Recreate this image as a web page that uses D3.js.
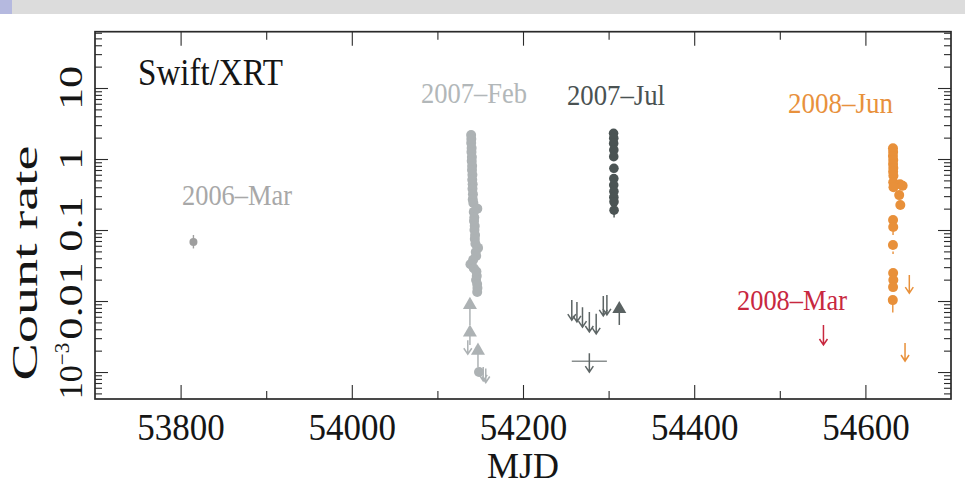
<!DOCTYPE html>
<html>
<head>
<meta charset="utf-8">
<script src="https://cdn.jsdelivr.net/npm/d3@7"></script>
<style>
  html, body { margin: 0; padding: 0; background: #ffffff; }
  svg { display: block; }
</style>
</head>
<body>
<svg id="chart" width="965" height="495"></svg>
<script>
// Swift/XRT count-rate history of the source, one group of marks per epoch.

// Epoch labels
const epochLabels = ["2006–Mar", "2007–Feb", "2007–Jul", "2008–Mar", "2008–Jun"];
const panelTitle = "Swift/XRT";

// Axis ticks
const xMajorTicks = [53800, 54000, 54200, 54400, 54600];
const xMinorTicks = [53900, 54100, 54300, 54500];
const yMajorTicks = [1e-3, 1e-2, 1e-1, 1, 10];
const yTickLabels = ["10|−3", "0.01", "0.1", "1", "10"];

// 2006-Mar: single detection [MJD, rate, low, high]
const mar2006 = [[53815, 0.068, 0.055, 0.085]];

// 2007-Feb detections [MJD, rate]
const feb2007 = [
  [54139.4, 2.18], [54139.6, 1.91], [54139.5, 1.68], [54140.0, 1.43], [54139.8, 1.26],
  [54140.3, 1.07], [54140.1, 0.94], [54140.6, 0.80], [54140.4, 0.70], [54140.9, 0.60],
  [54140.7, 0.51], [54141.2, 0.44], [54141.0, 0.38], [54141.5, 0.32], [54141.3, 0.27],
  [54142.0, 0.24], [54146.6, 0.20], [54142.5, 0.18], [54143.1, 0.15], [54142.8, 0.134],
  [54143.6, 0.114], [54143.3, 0.10], [54144.0, 0.085], [54143.7, 0.075], [54144.4, 0.064],
  [54147.5, 0.056], [54144.8, 0.049], [54145.3, 0.043], [54141.8, 0.038], [54138.6, 0.033],
  [54142.5, 0.029], [54145.6, 0.026], [54146.0, 0.0225], [54145.2, 0.0198], [54146.4, 0.0174],
  [54146.8, 0.0152], [54146.5, 0.0134], [54148.6, 0.0010]
];
// 2007-Feb hardness-flagged points (triangles) [MJD, rate, low]
const feb2007Tri = [[54138.0, 0.0088, 0.0046], [54138.0, 0.0036, 0.0024], [54147.4, 0.0020, 0.00118]];
// 2007-Feb upper limits [MJD, rate]
const feb2007Lim = [[54135.5, 0.0028], [54153.5, 0.00118], [54156.5, 0.00112]];

// 2007-Jul detections [MJD, rate]
const jul2007 = [
  [54305.8, 2.30], [54306.0, 1.96], [54305.9, 1.66], [54306.1, 1.34], [54306.0, 1.08],
  [54306.2, 0.74], [54306.1, 0.53], [54306.0, 0.43], [54306.2, 0.35], [54306.1, 0.29],
  [54306.3, 0.25], [54306.4, 0.19]
];
const jul2007Err = [[54306.4, 0.15, 0.19]];
const jul2007Tri = [[54312.5, 0.0077, 0.0046]];
const jul2007Lim = [
  [54257.0, 0.0103], [54263.0, 0.0097], [54269.5, 0.0082], [54277.5, 0.0070],
  [54285.5, 0.0066], [54293.8, 0.0118], [54298.0, 0.0122]
];
// stacked upper limit over a time span [MJD start, MJD end, rate]
const jul2007Stack = [[54257.0, 54298.0, 0.00142]];

// 2008-Mar upper limit [MJD, rate]
const mar2008Lim = [[54551, 0.0046]];

// 2008-Jun detections [MJD, rate]
const jun2008 = [
  [54632.2, 1.42], [54632.4, 1.26], [54632.2, 1.10], [54632.5, 0.97], [54632.3, 0.85],
  [54632.6, 0.75], [54632.4, 0.66], [54632.7, 0.58], [54632.5, 0.47], [54640.4, 0.44],
  [54632.8, 0.40], [54643.5, 0.42], [54639.5, 0.31], [54640.8, 0.225], [54632.3, 0.138],
  [54632.5, 0.110], [54632.2, 0.0615], [54632.4, 0.0248], [54632.6, 0.0198], [54632.3, 0.0157],
  [54632.0, 0.0103]
];
const jun2008Err = [[54632.0, 0.0069, 0.0103], [54632.3, 0.085, 0.095], [54632.3, 0.046, 0.050]];
const jun2008Lim = [[54651.3, 0.0232], [54646.3, 0.00256]];

// ---------------------------------------------------------------------------
const svg = d3.select("#chart");
const FONT = "'Liberation Serif', 'Times New Roman', serif";
const box = { left: 95, right: 951, top: 31.7, bottom: 399 };

const x = d3.scaleLinear().domain([53700, 54700]).range([box.left, box.right]);
const y = d3.scaleLog().domain([Math.pow(10, -3.38), Math.pow(10, 1.793)]).range([box.bottom, box.top]);

// window strip along the top edge
svg.append("rect").attr("x", 0).attr("y", 0).attr("width", 965).attr("height", 14).attr("fill", "#dcdcdc");
svg.append("rect").attr("x", 0).attr("y", 0).attr("width", 12).attr("height", 14).attr("fill", "#b5b9df");

// minor log ticks inside the y domain
const [yLo, yHi] = y.domain();
const yMinorTicks = [];
for (let e = -4; e <= 1; e++) {
  for (let k = 2; k <= 9; k++) {
    const v = k * Math.pow(10, e);
    if (v > yLo && v < yHi) yMinorTicks.push(v);
  }
}

function styleAxis(g) {
  g.select(".domain").remove();
  g.selectAll(".tick line").attr("stroke", "#2b2b2b").attr("stroke-width", 1.1);
}

// bottom axis with labels
const xAxisMajor = svg.append("g").attr("transform", `translate(0,${box.bottom})`)
  .call(d3.axisBottom(x).tickValues(xMajorTicks).tickSizeInner(-14).tickSizeOuter(0)
    .tickPadding(14).tickFormat(d3.format("d")));
styleAxis(xAxisMajor);
xAxisMajor.selectAll(".tick text")
  .attr("font-family", FONT).attr("font-size", 35).attr("fill", "#151515")
  .attr("transform", "scale(1,1.06)");

svg.append("g").attr("transform", `translate(0,${box.bottom})`)
  .call(d3.axisBottom(x).tickValues(xMinorTicks).tickSize(-8).tickFormat(""))
  .call(styleAxis);

// top axis (ticks only)
svg.append("g").attr("transform", `translate(0,${box.top})`)
  .call(d3.axisTop(x).tickValues(xMajorTicks).tickSize(-14).tickFormat(""))
  .call(styleAxis);
svg.append("g").attr("transform", `translate(0,${box.top})`)
  .call(d3.axisTop(x).tickValues(xMinorTicks).tickSize(-8).tickFormat(""))
  .call(styleAxis);

// left and right log axes (ticks only)
svg.append("g").attr("transform", `translate(${box.left},0)`)
  .call(d3.axisLeft(y).tickValues(yMajorTicks).tickSize(-13).tickFormat(""))
  .call(styleAxis);
svg.append("g").attr("transform", `translate(${box.left},0)`)
  .call(d3.axisLeft(y).tickValues(yMinorTicks).tickSize(-7).tickFormat(""))
  .call(styleAxis);
svg.append("g").attr("transform", `translate(${box.right},0)`)
  .call(d3.axisRight(y).tickValues(yMajorTicks).tickSize(-13).tickFormat(""))
  .call(styleAxis);
svg.append("g").attr("transform", `translate(${box.right},0)`)
  .call(d3.axisRight(y).tickValues(yMinorTicks).tickSize(-7).tickFormat(""))
  .call(styleAxis);

// frame
svg.append("rect")
  .attr("x", box.left).attr("y", box.top)
  .attr("width", box.right - box.left).attr("height", box.bottom - box.top)
  .attr("fill", "none").attr("stroke", "#2a2a2a").attr("stroke-width", 1.7);

// y tick labels, rotated and drawn tall
const yLabelLayout = {
  "10": { dy: 0, sx: 1.3 }, "1": { dy: 0, sx: 1.3 }, "0.1": { dy: -6, sx: 1.3 },
  "0.01": { dy: 0, sx: 1.3 }, "10|−3": { dy: -1, sx: 1.0 }
};
yMajorTicks.forEach((v, i) => {
  const lay = yLabelLayout[yTickLabels[i]];
  const parts = yTickLabels[i].split("|");
  const t = svg.append("text")
    .attr("transform", `translate(82,${y(v) + lay.dy}) rotate(-90) scale(${lay.sx},1)`)
    .attr("text-anchor", "middle")
    .attr("font-family", FONT).attr("font-size", 34).attr("fill", "#151515");
  t.append("tspan").text(parts[0]);
  if (parts[1]) {
    t.append("tspan").attr("dy", -13).attr("font-size", 21).text(parts[1]);
  }
});

// axis titles
svg.append("text")
  .attr("transform", `translate(37,263) rotate(-90) scale(1.6,1)`)
  .attr("text-anchor", "middle")
  .attr("font-family", FONT).attr("font-size", 35).attr("fill", "#151515")
  .text("Count rate");
svg.append("text")
  .attr("x", (box.left + box.right) / 2).attr("y", 478)
  .attr("text-anchor", "middle")
  .attr("font-family", FONT).attr("font-size", 36).attr("fill", "#151515")
  .text("MJD");

// panel title
svg.append("text")
  .attr("x", 138).attr("y", 85)
  .attr("font-family", FONT).attr("font-size", 37).attr("fill", "#151515")
  .attr("textLength", 145).attr("lengthAdjust", "spacingAndGlyphs")
  .text(panelTitle);

// epoch labels
const epochStyle = [
  { x: 182, y: 205, w: 110, c: "#a8a8a8" },
  { x: 421, y: 103, w: 106, c: "#b2b7b9" },
  { x: 567, y: 105, w: 98, c: "#4a5252" },
  { x: 737, y: 310, w: 110, c: "#c8283f" },
  { x: 788, y: 113, w: 105, c: "#e8913c" }
];
epochLabels.forEach((lab, i) => {
  const s = epochStyle[i];
  svg.append("text")
    .attr("x", s.x).attr("y", s.y)
    .attr("font-family", FONT).attr("font-size", 30).attr("fill", s.c)
    .attr("textLength", s.w).attr("lengthAdjust", "spacingAndGlyphs")
    .text(lab);
});

// ---- marks ----
const plot = svg.append("g");

function errBars(data, color) {
  plot.selectAll(null).data(data).enter().append("line")
    .attr("x1", d => x(d[0])).attr("x2", d => x(d[0]))
    .attr("y1", d => y(d[1])).attr("y2", d => y(d[2]))
    .attr("stroke", color).attr("stroke-width", 1.4);
}
function dots(data, color, r) {
  plot.selectAll(null).data(data).enter().append("circle")
    .attr("cx", d => x(d[0])).attr("cy", d => y(d[1])).attr("r", r)
    .attr("fill", color);
}
function triangles(data, color) {
  plot.selectAll(null).data(data).enter().append("line")
    .attr("x1", d => x(d[0])).attr("x2", d => x(d[0]))
    .attr("y1", d => y(d[1])).attr("y2", d => y(d[2]))
    .attr("stroke", color).attr("stroke-width", 1.5);
  const sym = d3.symbol().type(d3.symbolTriangle).size(85);
  plot.selectAll(null).data(data).enter().append("path")
    .attr("d", sym)
    .attr("transform", d => `translate(${x(d[0])},${y(d[1])})`)
    .attr("fill", color);
}
function arrows(data, color, len, offset = 0) {
  plot.selectAll(null).data(data).enter().append("path")
    .attr("d", d => {
      const px = x(d[0]), py = y(d[1]) + offset;
      return `M${px},${py}L${px},${py + len}M${px - 4},${py + len - 6}L${px},${py + len}L${px + 4},${py + len - 6}`;
    })
    .attr("fill", "none").attr("stroke", color).attr("stroke-width", 1.5)
    .attr("stroke-linejoin", "miter");
}

// 2006-Mar
errBars(mar2006.map(d => [d[0], d[2], d[3]]), "#a0a0a0");
dots(mar2006, "#9e9e9e", 4);

// 2007-Feb
const febColor = "#adb2b4";
triangles(feb2007Tri, febColor);
arrows(feb2007Lim, febColor, 14);
dots(feb2007, febColor, 5);

// 2007-Jul
const julColor = "#4b5454";
errBars(jul2007Err, julColor);
dots(jul2007, julColor, 4.8);
triangles(jul2007Tri, "#5a6262");
arrows(jul2007Lim, "#5d6565", 20);
plot.selectAll(null).data(jul2007Stack).enter().append("line")
  .attr("x1", d => x(d[0])).attr("x2", d => x(d[1]))
  .attr("y1", d => y(d[2])).attr("y2", d => y(d[2]))
  .attr("stroke", "#8a8f8f").attr("stroke-width", 1.5);
arrows(jul2007Stack.map(d => [(d[0] + d[1]) / 2, d[2]]), "#5d6565", 19, -8);

// 2008-Mar
arrows(mar2008Lim, "#c8283f", 20);

// 2008-Jun
const junColor = "#e8903a";
errBars(jun2008Err, junColor);
dots(jun2008, junColor, 5);
arrows(jun2008Lim, junColor, 18);
</script>
</body>
</html>
